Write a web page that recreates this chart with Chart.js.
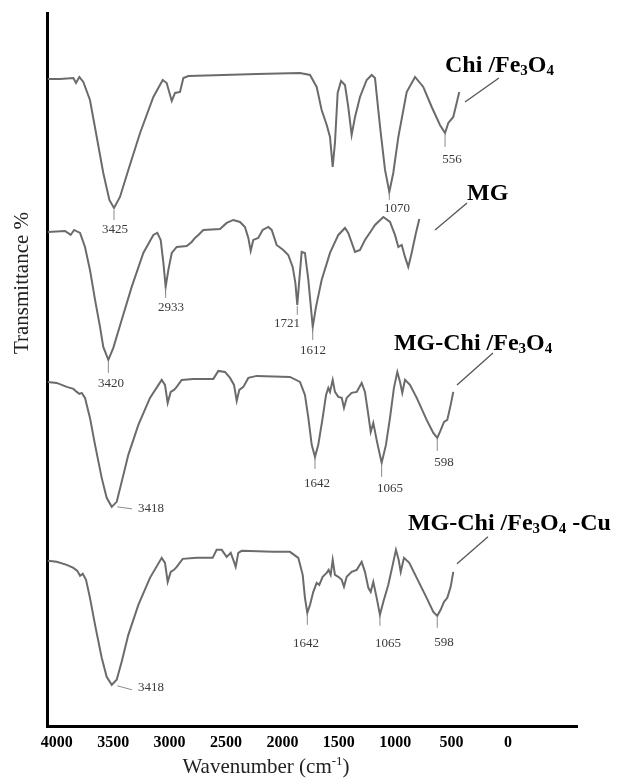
<!DOCTYPE html>
<html><head><meta charset="utf-8">
<script src="https://cdn.jsdelivr.net/npm/chart.js@4.4.1/dist/chart.umd.min.js"></script>
<style>html,body{margin:0;padding:0;background:#fff;}#wrap{width:618px;height:781px;}</style>
</head><body><div id="wrap"><canvas id="c" width="618" height="781"></canvas></div>
<script>
// ---- data (wavenumber cm-1, transmittance in arbitrary offset units) ----
const tickVals = [4000,3500,3000,2500,2000,1500,1000,500,0];
const tickLabels = ['4000','3500','3000','2500','2000','1500','1000','500','0'];

const chiWn = [4080,3972,3853,3830,3800,3765,3706,3646,3588,3534,3493,3440,3366,3262,3144,3061,3026,2981,2952,2908,2878,2834,2524,2228,1844,1755,1696,1652,1607,1578,1554,1534,1510,1480,1445,1416,1386,1356,1312,1253,1208,1179,1150,1129,1090,1052,1017,972,898,824,751,676,603,558,529,485,455,432];
const chiT  = [648,648,649,644,650,645,627,590,554,527,519,530,557,594,630,647,644,626,634,635,649,651,652,653,654,652,640,617,602,590,560,584,634,646,642,620,592,610,630,647,652,649,617,595,557,535,554,590,635,650,640,620,602,594,604,610,624,635];

const mgWn = [4080,3927,3877,3847,3794,3750,3706,3661,3617,3588,3543,3499,3425,3336,3233,3144,3109,3079,3055,3035,3011,2981,2937,2848,2804,2775,2745,2701,2553,2494,2435,2376,2332,2302,2281,2258,2214,2175,2125,2095,2051,1992,1948,1909,1885,1868,1850,1829,1800,1770,1731,1702,1652,1578,1504,1445,1416,1356,1312,1268,1208,1179,1105,1046,1002,972,942,913,884,854,816,786];
const mgT  = [495,496,492,497,494,480,457,427,400,380,367,379,407,440,474,492,494,487,464,440,457,474,480,481,485,489,492,497,498,504,507,505,500,489,476,487,489,497,500,497,482,477,472,460,444,422,447,475,474,447,400,420,447,474,492,499,494,475,477,487,497,502,510,505,492,480,482,470,460,474,494,508];

const mcWn = [4080,4001,3912,3853,3823,3800,3779,3750,3706,3661,3602,3558,3513,3469,3425,3366,3277,3174,3070,3041,3017,2990,2961,2937,2893,2790,2612,2568,2509,2464,2429,2405,2382,2346,2302,2228,1933,1844,1800,1770,1740,1711,1682,1643,1613,1593,1578,1554,1534,1504,1474,1454,1430,1386,1341,1297,1268,1238,1217,1194,1159,1120,1082,1046,1011,981,957,937,913,869,809,721,662,627,603,567,538,508,485];
const mcT  = [345,344,340,338,335,333,334,329,309,282,249,229,220,225,245,272,302,329,347,342,324,335,337,340,347,348,348,356,355,349,342,326,337,340,349,351,350,345,332,309,282,270,282,309,332,339,335,347,335,330,329,319,329,334,335,344,335,312,295,304,284,264,282,309,339,355,345,334,347,342,329,307,294,289,295,305,307,322,335];

const cuWn = [4080,4001,3912,3853,3818,3794,3770,3741,3706,3661,3602,3558,3513,3469,3425,3366,3277,3174,3070,3041,3017,2990,2961,2937,2884,2760,2618,2583,2538,2494,2458,2435,2414,2391,2361,2081,1933,1859,1820,1800,1779,1755,1726,1696,1673,1643,1607,1590,1572,1554,1534,1504,1474,1454,1430,1386,1341,1297,1268,1238,1217,1194,1164,1135,1105,1061,1022,993,969,951,922,875,809,721,662,627,597,567,538,508,485];
const cuT  = [166,165,162,159,156,151,153,147,129,102,69,50,42,47,65,92,122,149,169,164,145,155,157,160,168,169,169,177,177,170,174,167,160,174,176,175,175,169,152,129,114,122,135,144,142,150,154,157,152,167,152,150,147,140,150,155,157,165,155,139,135,145,129,112,125,142,162,177,167,155,169,164,149,129,115,111,117,125,129,140,155];

// peak annotations
const peakText = ['3425','1070','556','3420','2933','1721','1612','3418','1642','1065','598','3418','1642','1065','598'];
const peakWn   = [3484,984,496,3519,2988,1959,1729,3165,1693,1046,567,3165,1791,1064,567];
const peakT    = [497,518,567,343,419,403,376,218,243,238,264,39,83,83,84];
// short marker lines [wn1, t1, wn2, t2]
const peakMarks = [
  [3493,517,3493,507],[1052,534,1052,527],[558,593,558,580],
  [3543,366,3543,354],[3035,439,3035,429],[1868,421,1868,412],[1731,399,1731,387],
  [3464,220,3333,218],[1711,269,1711,258],[1120,263,1120,250],[627,288,627,276],
  [3464,41,3333,37],[1779,112,1779,102],[1135,111,1135,101],[627,110,627,99]
];
// series names (rich text parts: [text, isSubscript])
const seriesNames = [
  [['Chi /Fe',0],['3',1],['O',0],['4',1]],
  [['MG',0]],
  [['MG-Chi /Fe',0],['3',1],['O',0],['4',1]],
  [['MG-Chi /Fe',0],['3',1],['O',0],['4',1],[' -Cu',0]]
];
const nameWn = [558,363,1011,887];
const nameT  = [655,527,377,197];
const leaders = [[80,649,381,625],[363,524,647,497],[133,374,452,342],[177,190,452,163]];

// ---- chart ----
function pts(w,t){const n=Math.min(w.length,t.length);const a=[];for(let i=0;i<n;i++)a.push({x:w[i],y:t[i]});return a;}
const lineColor = '#6b6b6b';
function ds(w,t){return {data:pts(w,t),borderColor:lineColor,borderWidth:2,pointRadius:0,tension:0,fill:false};}
const SERIF = '"Liberation Serif", "Times New Roman", serif';

function drawRich(ctx, parts, x, y, size){
  let cx = x;
  parts.forEach(([t,sub])=>{
    const fs = sub ? Math.round(size*0.62) : size;
    ctx.font = 'bold '+fs+'px '+SERIF;
    ctx.fillText(t, cx, sub ? y+3 : y);
    cx += ctx.measureText(t).width;
  });
}

const annot = {
  id:'annot',
  afterDatasetsDraw(chart){
    const {ctx, scales:{x,y}} = chart;
    const X=v=>x.getPixelForValue(v), Y=v=>y.getPixelForValue(v);
    ctx.save();
    ctx.strokeStyle='#8a8a8a'; ctx.lineWidth=1;
    peakMarks.forEach(m=>{ctx.beginPath();ctx.moveTo(X(m[0]),Y(m[1]));ctx.lineTo(X(m[2]),Y(m[3]));ctx.stroke();});
    ctx.fillStyle='#3a3a3a';
    ctx.font='13px '+SERIF;
    ctx.textAlign='center'; ctx.textBaseline='middle';
    peakText.forEach((t,i)=>ctx.fillText(t, X(peakWn[i]), Y(peakT[i])));
    // leader lines
    ctx.strokeStyle='#555'; ctx.lineWidth=1.3;
    leaders.forEach(m=>{ctx.beginPath();ctx.moveTo(X(m[0]),Y(m[1]));ctx.lineTo(X(m[2]),Y(m[3]));ctx.stroke();});
    // series names
    ctx.fillStyle='#000'; ctx.textAlign='left'; ctx.textBaseline='alphabetic';
    seriesNames.forEach((p,i)=>drawRich(ctx,p,X(nameWn[i]),Y(nameT[i]),24));
    // axis titles
    ctx.fillStyle='#222';
    const big='21px '+SERIF, small='13px '+SERIF;
    const a='Wavenumber (cm', s='-1', b=')';
    ctx.font=big; const wa=ctx.measureText(a).width, wb=ctx.measureText(b).width;
    ctx.font=small; const ws=ctx.measureText(s).width;
    const total=wa+ws+wb; let sx=266-total/2; const by=773;
    ctx.font=big; ctx.fillText(a,sx,by); sx+=wa;
    ctx.font=small; ctx.fillText(s,sx,by-8); sx+=ws;
    ctx.font=big; ctx.fillText(b,sx,by);
    // y title
    ctx.save();
    ctx.translate(28,283); ctx.rotate(-Math.PI/2);
    ctx.textAlign='center';
    ctx.font='21px '+SERIF;
    ctx.fillText('Transmittance %',0,0);
    ctx.restore();
    ctx.restore();
  }
};

new Chart(document.getElementById('c'), {
  type:'line',
  data:{datasets:[ds(chiWn,chiT),ds(mgWn,mgT),ds(mcWn,mcT),ds(cuWn,cuT)]},
  options:{
    responsive:false, devicePixelRatio:1, animation:false,
    layout:{padding:{left:47,right:41,top:13,bottom:23}},
    plugins:{legend:{display:false},tooltip:{enabled:false}},
    scales:{
      x:{type:'linear',reverse:true,min:-612,max:4087,
        afterBuildTicks:(sc)=>{sc.ticks=tickVals.map(v=>({value:v}));},
        ticks:{autoSkip:false,maxRotation:0,padding:6,color:'#000',
          font:{family:SERIF,size:16,weight:'bold'},
          callback:(v)=>{const i=tickVals.indexOf(v);return i>=0?tickLabels[i]:'';}},
        grid:{display:false,drawTicks:false},
        border:{display:true,color:'#000',width:3}},
      y:{type:'linear',min:0,max:714,
        ticks:{display:false},
        grid:{display:false,drawTicks:false},
        border:{display:true,color:'#000',width:3}}
    }
  },
  plugins:[annot]
});
</script></body></html>
